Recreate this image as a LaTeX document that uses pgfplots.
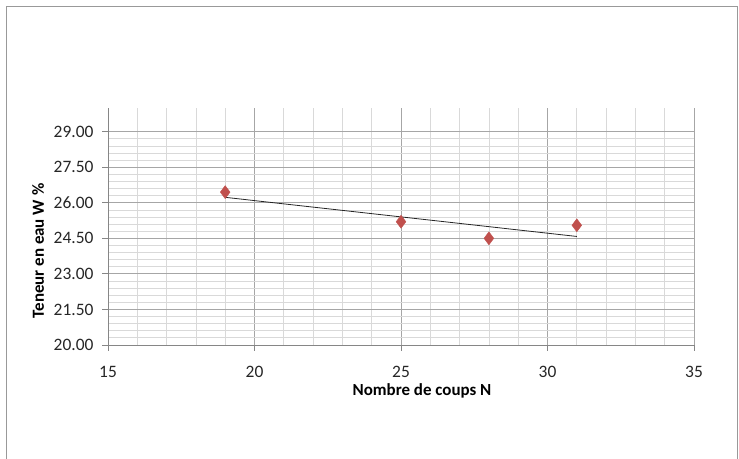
\documentclass[border=0pt]{standalone}
\usepackage{fontspec}
\setmainfont{Carlito}
\usepackage{pgfplots}
\pgfplotsset{compat=1.18}
\definecolor{mk}{HTML}{C0504D}
\definecolor{majg}{HTML}{A6A6A6}
\definecolor{ming}{HTML}{D9D9D9}
\definecolor{axg}{HTML}{868686}
\begin{document}
\begin{tikzpicture}[x=1bp,y=1bp]
\useasboundingbox (0,0) rectangle (739,459);
\draw[color=gray!80, line width=1bp] (6.5,-2) -- (6.5,452) -- (737.5,452) -- (737.5,-2);
\begin{axis}[
  at={(108bp,114bp)}, anchor=south west,
  width=586bp, height=237bp, scale only axis,
  xmin=15, xmax=35, ymin=20, ymax=30,
  xtick={15,20,25,30,35},
  ytick={20,21.5,23,24.5,26,27.5,29},
  minor x tick num=4, minor y tick num=4,
  grid=both,
  major grid style={color=majg, line width=0.8bp},
  minor grid style={color=ming, line width=0.8bp},
  axis x line*=bottom, axis y line*=left,
  axis line style={color=axg, line width=0.8bp, -},
  tick align=outside,
  major tick length=6bp, minor tick length=0bp,
  tick style={color=axg, line width=0.8bp},
  /pgf/number format/assume math mode=true,
  yticklabel={\pgfmathprintnumber[fixed,fixed zerofill,precision=2]{\tick}},
  xticklabel={\pgfmathprintnumber[fixed]{\tick}},
  tick label style={font=\fontsize{17.5}{20}\selectfont, color=black!85},
  yticklabel style={xshift=-5bp},
  xticklabel style={yshift=-12bp},
  clip=false,
]
\addplot[color=black!85, line width=0.8bp, forget plot] coordinates {(19,26.23) (31,24.58)};
\addplot[only marks, mark=diamond*, mark size=6.5bp, color=mk, mark options={fill=mk, draw=mk}] coordinates {
  (19,26.45) (25,25.2) (28,24.5) (31,25.05)
};
\end{axis}
\node[font=\fontsize{17}{20}\selectfont\bfseries] at (422,68) {Nombre de coups N};
\node[font=\fontsize{17}{20}\selectfont\bfseries, rotate=90] at (38,208) {Teneur en eau W \%};
\end{tikzpicture}
\end{document}
